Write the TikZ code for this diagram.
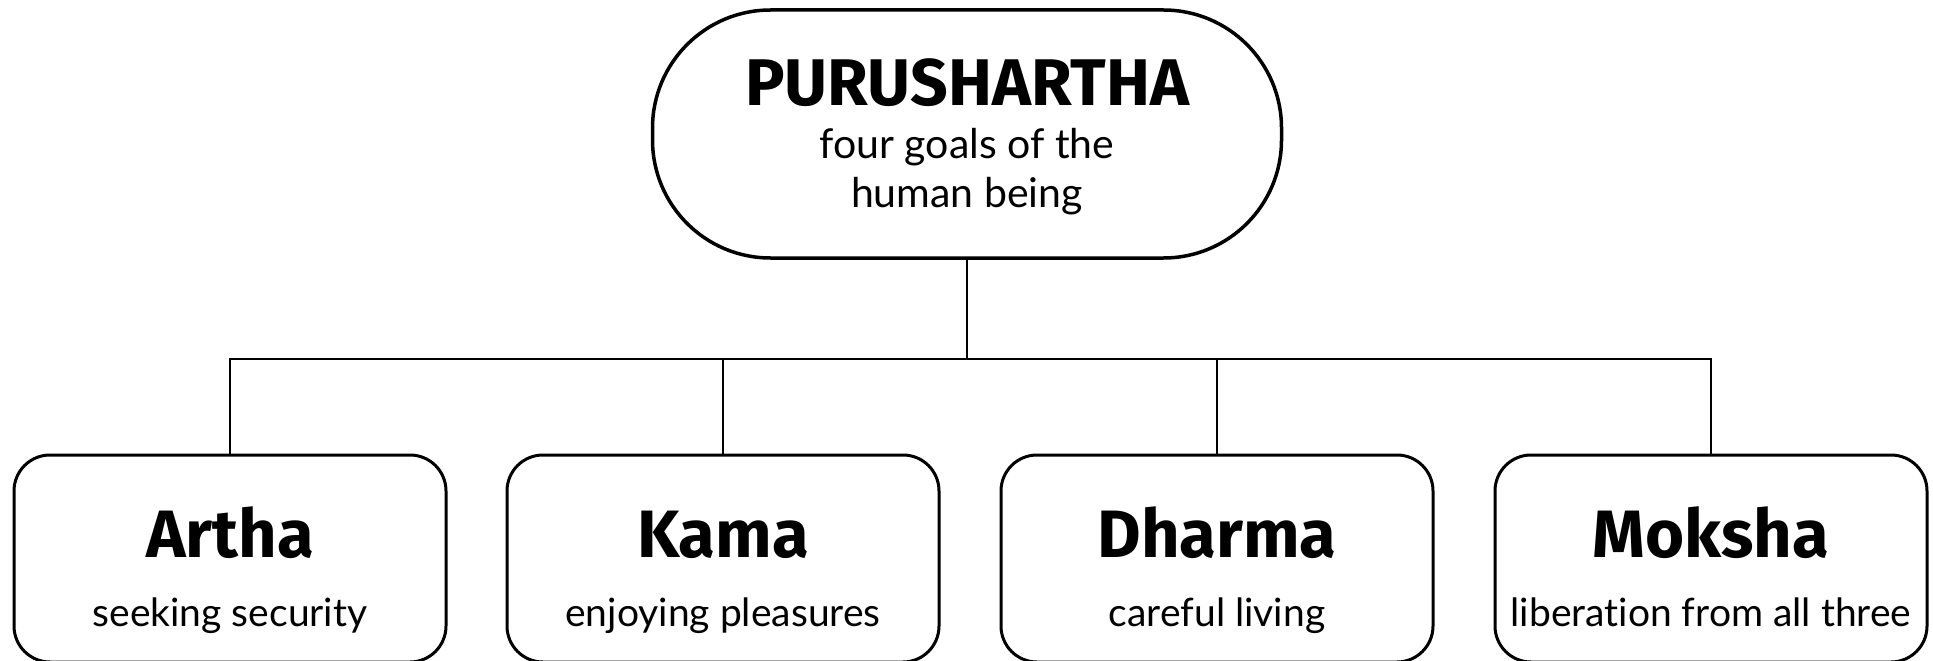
\documentclass[tikz,border=0pt]{standalone}
\usepackage{fontspec}
\setmainfont{Lato}[Ligatures=NoCommon]
\newfontfamily\headfont{Fira Sans}
\begin{document}
\begin{tikzpicture}[x=1pt,y=-1pt,
  topbox/.style={draw, line width=3.5pt, rounded corners=118pt, minimum width=629pt, minimum height=248pt, inner sep=0pt},
  goalbox/.style={draw, line width=3pt, rounded corners=36pt, minimum width=432pt, minimum height=207pt, inner sep=0pt},
  link/.style={line width=2.2pt},
  headtxt/.style={anchor=base, inner sep=0pt, font=\headfont\bfseries\fontsize{66}{74}\selectfont},
  titletxt/.style={anchor=base, inner sep=0pt, font=\headfont\bfseries\fontsize{67}{76}\selectfont},
  topsub/.style={anchor=base, inner sep=0pt, font=\fontsize{41}{48}\selectfont},
  subtxt/.style={anchor=base, inner sep=0pt, font=\fontsize{39}{46}\selectfont}]
\useasboundingbox (0,0) rectangle (1933,661);
\node[topbox] (top) at (967,134) {};
\node[headtxt] (topT) at (967,105) {PURUSHARTHA};
\node[topsub] (topS1) at (967,158) {four goals of the};
\node[topsub] (topS2) at (967,207) {human being};
\node[goalbox] (artha) at (230,558.5) {};
\node[goalbox] (kama) at (723,558.5) {};
\node[goalbox] (dharma) at (1217,558.5) {};
\node[goalbox] (moksha) at (1711,558.5) {};
\node[titletxt] (arthaT) at (230,557) {Artha};
\node[titletxt] (kamaT) at (723,557) {Kama};
\node[titletxt] (dharmaT) at (1217,557) {Dharma};
\node[titletxt] (mokshaT) at (1711,557) {Moksha};
\node[subtxt] (arthaS) at (230,626) {seeking security};
\node[subtxt] (kamaS) at (723,626) {enjoying pleasures};
\node[subtxt] (dharmaS) at (1217,626) {careful living};
\node[subtxt] (mokshaS) at (1711,626) {liberation from all three};
\coordinate (bar) at (0,359);
\draw[link] (top.south) -- (top.south |- bar);
\draw[link] (artha.north) -- (artha.north |- bar) -- (moksha.north |- bar) -- (moksha.north);
\draw[link] (kama.north) -- (kama.north |- bar);
\draw[link] (dharma.north) -- (dharma.north |- bar);
\end{tikzpicture}
\end{document}
